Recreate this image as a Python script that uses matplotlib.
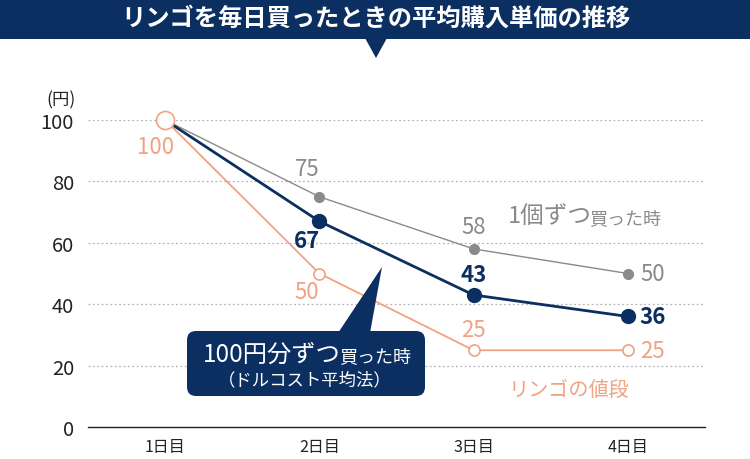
import matplotlib
matplotlib.use('Agg')
import matplotlib.pyplot as plt
from matplotlib.patches import Rectangle, Polygon, FancyBboxPatch

plt.rcParams['font.family'] = ['Noto Sans CJK JP', 'DejaVu Sans']

# データ
days = ['1日目', '2日目', '3日目', '4日目']
x = [1, 2, 3, 4]
price = [100, 50, 25, 25]          # リンゴの値段
one_each = [100, 75, 58, 50]       # 1個ずつ買った時
dollar_cost = [100, 67, 43, 36]    # 100円分ずつ買った時
yticks = [0, 20, 40, 60, 80, 100]

NAVY = '#0b2f61'
GRAY = '#8a8a8a'
SALMON = '#f0a282'

W, H = 750, 460
fig = plt.figure(figsize=(W / 100, H / 100), dpi=100)


def fx(px):
    return px / W


def fy(py):
    return 1 - py / H


ax = fig.add_axes([fx(88), fy(428), fx(705) - fx(88), fy(121) - fy(428)])
ax.set_xlim(0.5, 4.5)
ax.set_ylim(0, 100)

for v in yticks[1:]:
    ax.axhline(v, color='#b5b5b5', linestyle=(0, (1.5, 2)), linewidth=0.9, zorder=1)

for s in ['top', 'right', 'left']:
    ax.spines[s].set_visible(False)
ax.spines['bottom'].set_color('#222222')
ax.spines['bottom'].set_linewidth(1.0)

ax.set_yticks(yticks)
ax.set_yticklabels([str(v) for v in yticks], fontsize=14.5, color='#222222')
ax.set_xticks(x)
ax.set_xticklabels(days, fontsize=11.5, color='#222222')
ax.tick_params(axis='both', length=0)
ax.tick_params(axis='y', pad=10)
ax.tick_params(axis='x', pad=8)

# 線
ax.plot(x, one_each, color=GRAY, linewidth=1.0, marker='o', markersize=7,
        zorder=3, clip_on=False)
ax.plot(x, dollar_cost, color=NAVY, linewidth=2.0, marker='o', markersize=10,
        zorder=4, clip_on=False)
ax.plot(x, price, color=SALMON, linewidth=1.3, marker='o', markersize=8,
        markerfacecolor='white', markeredgewidth=1.2, zorder=5, clip_on=False)
ax.plot(x[:1], price[:1], linestyle='none', marker='o', markersize=13,
        markerfacecolor='white', markeredgecolor=SALMON, markeredgewidth=1.2,
        zorder=6, clip_on=False)

# 値ラベル
lab = dict(fontsize=16, ha='center', va='center')
ax.annotate(str(one_each[1]), (x[1], one_each[1]), xytext=(-9, 20),
            textcoords='offset points', color=GRAY, **lab)
ax.annotate(str(one_each[2]), (x[2], one_each[2]), xytext=(0, 16),
            textcoords='offset points', color=GRAY, **lab)
ax.annotate(str(one_each[3]), (x[3], one_each[3]), xytext=(18, 0),
            textcoords='offset points', color=GRAY, **lab)

ax.annotate(str(dollar_cost[1]), (x[1], dollar_cost[1]), xytext=(-9, -14),
            textcoords='offset points', color=NAVY, fontweight='bold', **lab)
ax.annotate(str(dollar_cost[2]), (x[2], dollar_cost[2]), xytext=(0, 15),
            textcoords='offset points', color=NAVY, fontweight='bold', **lab)
ax.annotate(str(dollar_cost[3]), (x[3], dollar_cost[3]), xytext=(18, 0),
            textcoords='offset points', color=NAVY, fontweight='bold', **lab)

ax.annotate(str(price[0]), (x[0], price[0]), xytext=(-7, -19),
            textcoords='offset points', color=SALMON, **lab)
ax.annotate(str(price[1]), (x[1], price[1]), xytext=(-9, -13),
            textcoords='offset points', color=SALMON, **lab)
ax.annotate(str(price[2]), (x[2], price[2]), xytext=(0, 15),
            textcoords='offset points', color=SALMON, **lab)
ax.annotate(str(price[3]), (x[3], price[3]), xytext=(18, 0),
            textcoords='offset points', color=SALMON, **lab)

# 単位
fig.text(fx(61), fy(100), '(円)', fontsize=12.5, color='#222222',
         ha='center', va='center')

# 系列名
fig.text(fx(592), fy(224), '1個ずつ', fontsize=17, color=GRAY,
         ha='right', va='baseline')
fig.text(fx(589), fy(224), '買った時', fontsize=13, color=GRAY,
         ha='left', va='baseline')
fig.text(fx(569), fy(390), 'リンゴの値段', fontsize=14.5, color=SALMON,
         ha='center', va='center')

# タイトル帯
fig.patches.append(Rectangle((0, fy(40)), 1, 1 - fy(40), transform=fig.transFigure,
                             facecolor=NAVY, edgecolor='none'))
fig.patches.append(Polygon([(fx(365), fy(39)), (fx(387), fy(39)), (fx(376), fy(59))],
                           closed=True, transform=fig.transFigure,
                           facecolor=NAVY, edgecolor='none'))
fig.text(fx(376), fy(19), 'リンゴを毎日買ったときの平均購入単価の推移', fontsize=17.5,
         fontweight='bold', color='white', ha='center', va='center')

# 吹き出し
fig.patches.append(FancyBboxPatch((fx(193), fy(391)), fx(419) - fx(193), fy(338) - fy(391),
                                  boxstyle='round,pad=0.008,rounding_size=0.012',
                                  transform=fig.transFigure, mutation_aspect=W / H,
                                  facecolor=NAVY, edgecolor='none'))
fig.patches.append(Polygon([(fx(338), fy(334)), (fx(370), fy(334)), (fx(382), fy(268))],
                           closed=True, transform=fig.transFigure,
                           facecolor=NAVY, edgecolor='none'))
fig.text(fx(341), fy(362), '100円分ずつ', fontsize=17.5, color='white',
         ha='right', va='baseline')
fig.text(fx(339), fy(362), '買った時', fontsize=13, color='white',
         ha='left', va='baseline')
fig.text(fx(305), fy(380), '（ドルコスト平均法）', fontsize=12.5, color='white',
         ha='center', va='center')

plt.savefig('out.png', dpi=100, facecolor='white')
plt.close()
